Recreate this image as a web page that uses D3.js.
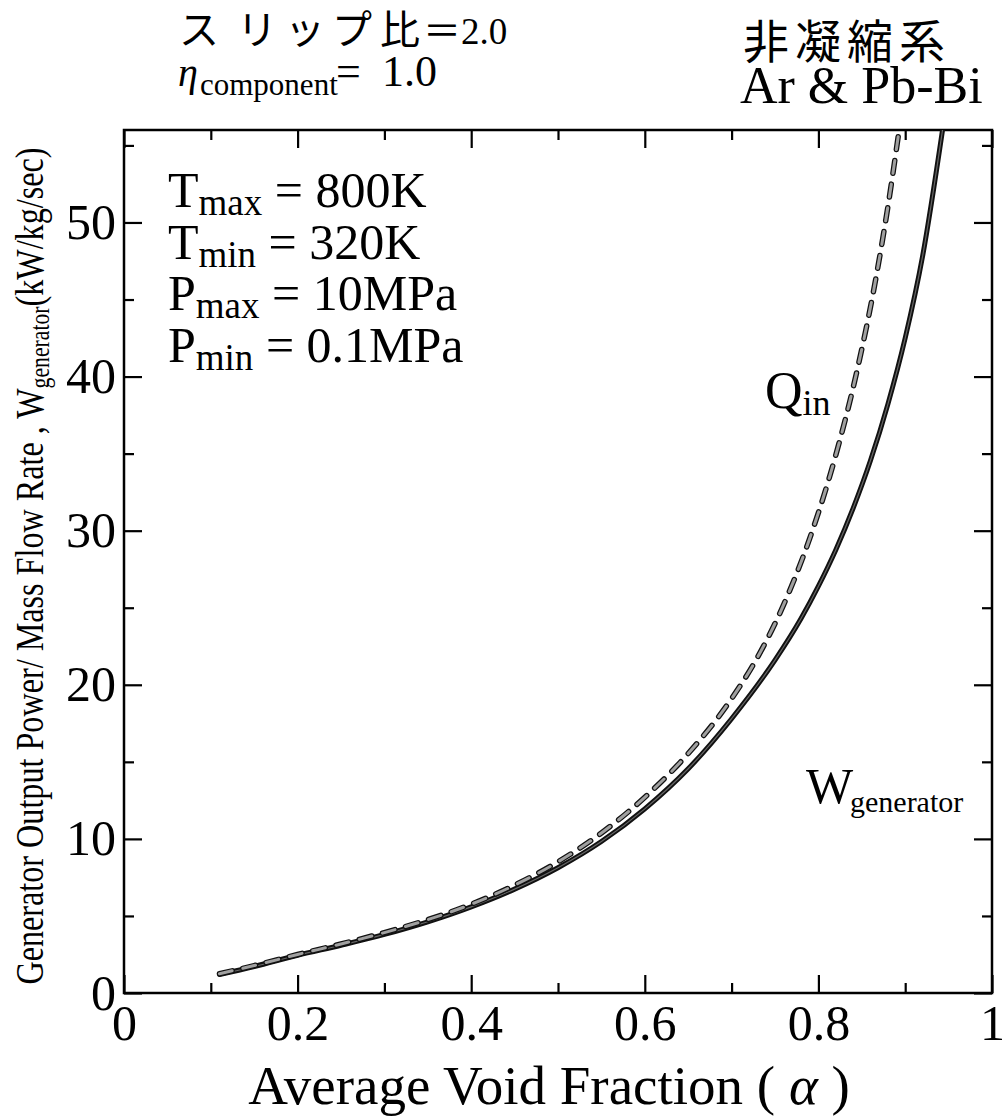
<!DOCTYPE html>
<html><head><meta charset="utf-8">
<script src="https://cdnjs.cloudflare.com/ajax/libs/d3/7.8.5/d3.min.js"></script>
<style>body{margin:0;background:#fff}svg{display:block}</style>
</head><body>
<svg id="c" width="1003" height="1116"></svg>
<script>
// ---- data ----
const wAlpha  = [0.11, 0.15, 0.2, 0.25, 0.3, 0.35, 0.4, 0.45, 0.5, 0.55, 0.6, 0.65, 0.7, 0.75, 0.78, 0.8, 0.82, 0.84, 0.86, 0.88, 0.9, 0.92, 0.943];
const wValues = [1.2, 1.72, 2.45, 3.1, 3.8, 4.62, 5.59, 6.74, 8.13, 9.83, 11.95, 14.55, 17.8, 21.6, 24.3, 26.4, 28.75, 31.45, 34.55, 38.2, 42.5, 47.8, 56.0];
const qAlpha  = [0.11, 0.15, 0.2, 0.25, 0.3, 0.35, 0.4, 0.45, 0.5, 0.55, 0.6, 0.65, 0.7, 0.73, 0.76, 0.79, 0.82, 0.845, 0.865, 0.88, 0.894];
const qValues = [1.25, 1.78, 2.5, 3.18, 3.92, 4.76, 5.76, 7.0, 8.51, 10.38, 12.7, 15.54, 19.1, 21.8, 25.2, 29.5, 34.9, 40.5, 46.0, 51.0, 56.4];
const xMajor = [0, 0.2, 0.4, 0.6, 0.8, 1];
const xMajorLabels = ["0", "0.2", "0.4", "0.6", "0.8", "1"];
const xMinor = [0.1, 0.3, 0.5, 0.7, 0.9];
const yMajor = [0, 10, 20, 30, 40, 50];
const yMajorLabels = ["0", "10", "20", "30", "40", "50"];
const yMinor = [5, 15, 25, 35, 45, 55];

const svg = d3.select("#c");
const L = 124, R = 992, T = 130, B = 993;
const x = d3.scaleLinear().domain([0, 1]).range([L, R]);
const y = d3.scaleLinear().domain([0, 56]).range([B, T]);
const serif = "'Liberation Serif','Times New Roman',serif";
const jp = "'Noto Sans CJK JP',sans-serif";

svg.append("rect").attr("width", 1003).attr("height", 1116).attr("fill", "#fff");

svg.append("clipPath").attr("id", "clip").append("rect")
  .attr("x", L).attr("y", T).attr("width", R - L).attr("height", B - T);

// axes
function styleAxis(g) {
  g.select(".domain").remove();
  g.selectAll(".tick line").attr("stroke", "#000").attr("stroke-width", 2.2);
  g.selectAll(".tick text").attr("font-family", serif).attr("font-size", 50).attr("fill", "#000");
}
svg.append("g").attr("transform", `translate(0,${B})`)
  .call(d3.axisBottom(x).tickValues(xMajor).tickSize(-18).tickPadding(11)
    .tickFormat((d, i) => xMajorLabels[i])).call(styleAxis);
svg.append("g").attr("transform", `translate(0,${B})`)
  .call(d3.axisBottom(x).tickValues(xMinor).tickSize(-10).tickFormat("")).call(styleAxis);
svg.append("g").attr("transform", `translate(0,${T})`)
  .call(d3.axisTop(x).tickValues(xMajor).tickSize(-18).tickFormat("")).call(styleAxis);
svg.append("g").attr("transform", `translate(0,${T})`)
  .call(d3.axisTop(x).tickValues(xMinor).tickSize(-10).tickFormat("")).call(styleAxis);
svg.append("g").attr("transform", `translate(${L},0)`)
  .call(d3.axisLeft(y).tickValues(yMajor).tickSize(-18).tickPadding(8)
    .tickFormat((d, i) => yMajorLabels[i])).call(styleAxis);
svg.append("g").attr("transform", `translate(${L},0)`)
  .call(d3.axisLeft(y).tickValues(yMinor).tickSize(-10).tickFormat("")).call(styleAxis);
svg.append("g").attr("transform", `translate(${R},0)`)
  .call(d3.axisRight(y).tickValues(yMajor).tickSize(-18).tickFormat("")).call(styleAxis);
svg.append("g").attr("transform", `translate(${R},0)`)
  .call(d3.axisRight(y).tickValues(yMinor).tickSize(-10).tickFormat("")).call(styleAxis);

svg.append("rect").attr("x", L).attr("y", T).attr("width", R - L).attr("height", B - T)
  .attr("fill", "none").attr("stroke", "#000").attr("stroke-width", 2.5);

// lines
const line = d3.line().x(d => x(d[0])).y(d => y(d[1])).curve(d3.curveMonotoneX);
const wData = wAlpha.map((a, i) => [a, wValues[i]]);
const qData = qAlpha.map((a, i) => [a, qValues[i]]);
const lg = svg.append("g").attr("clip-path", "url(#clip)");
lg.append("path").datum(wData).attr("d", line).attr("fill", "none")
  .attr("stroke", "#111").attr("stroke-width", 5).attr("stroke-linecap", "round");
lg.append("path").datum(wData).attr("d", line).attr("fill", "none")
  .attr("stroke", "#666").attr("stroke-width", 1.2);
lg.append("path").datum(qData).attr("d", line).attr("fill", "none")
  .attr("stroke", "#111").attr("stroke-width", 5.5).attr("stroke-dasharray", "13,11")
  .attr("stroke-linecap", "round");
lg.append("path").datum(qData).attr("d", line).attr("fill", "none")
  .attr("stroke", "#a0a0a0").attr("stroke-width", 3).attr("stroke-dasharray", "13,11")
  .attr("stroke-linecap", "round");

// axis titles
const xt = svg.append("text").attr("x", 549).attr("y", 1104).attr("text-anchor", "middle")
  .attr("font-family", serif).attr("font-size", 55).attr("fill", "#000");
xt.append("tspan").text("Average Void Fraction ( ");
xt.append("tspan").attr("font-style", "italic").text("α");
xt.append("tspan").text(" )");

const yt = svg.append("text").attr("transform", "translate(43,566) rotate(-90)")
  .attr("text-anchor", "middle").attr("font-family", serif).attr("font-size", 40).attr("fill", "#000")
  .attr("textLength", 837).attr("lengthAdjust", "spacingAndGlyphs");
yt.append("tspan").text("Generator Output Power/ Mass Flow Rate , W");
yt.append("tspan").attr("font-size", 27).attr("dy", 6).text("generator");
yt.append("tspan").attr("dy", -6).text("(kW/kg/sec)");

// header texts
const h1 = svg.append("text").attr("y", 44).attr("fill", "#000");
h1.append("tspan").attr("x", "179 237 285 332 380").attr("font-family", jp).attr("font-size", 40)
  .text("スリップ比");
h1.append("tspan").attr("x", 423).attr("font-family", jp).attr("font-size", 38).text("＝");
h1.append("tspan").attr("x", 461).attr("font-family", serif).attr("font-size", 37).text("2.0");

const eta = svg.append("text").attr("x", 178).attr("y", 86).attr("font-family", serif).attr("font-size", 40);
eta.append("tspan").attr("font-style", "italic").text("η");
eta.append("tspan").attr("x", 200).attr("dy", 9).attr("font-size", 31).text("component");
eta.append("tspan").attr("x", 336).attr("dy", -9).attr("font-size", 44).text("=");
eta.append("tspan").attr("x", 382).attr("font-size", 44).text("1.0");

svg.append("text").attr("x", 743).attr("y", 58).attr("font-family", jp).attr("font-size", 46)
  .attr("textLength", 202).attr("lengthAdjust", "spacing").text("非凝縮系");
svg.append("text").attr("x", 740).attr("y", 103).attr("font-family", serif).attr("font-size", 52)
  .text("Ar & Pb-Bi");

// condition annotations
const conds = [["T", "max", "= 800K"], ["T", "min", "= 320K"], ["P", "max", "= 10MPa"], ["P", "min", "= 0.1MPa"]];
conds.forEach((c, i) => {
  const t = svg.append("text").attr("x", 168).attr("y", 207 + i * 51.7)
    .attr("font-family", serif).attr("font-size", 50).attr("fill", "#000");
  t.append("tspan").text(c[0]);
  t.append("tspan").attr("font-size", 37).attr("dy", 8).text(c[1]);
  t.append("tspan").attr("dy", -8).text(" " + c[2]);
});

// curve labels
const ql = svg.append("text").attr("x", 765).attr("y", 408).attr("font-family", serif).attr("font-size", 52);
ql.append("tspan").text("Q");
ql.append("tspan").attr("font-size", 36).attr("dy", 7).text("in");
const wl = svg.append("text").attr("x", 806).attr("y", 803).attr("font-family", serif).attr("font-size", 50);
wl.append("tspan").text("W");
wl.append("tspan").attr("x", 850).attr("font-size", 30).attr("dy", 9).text("generator");
</script>
</body></html>
